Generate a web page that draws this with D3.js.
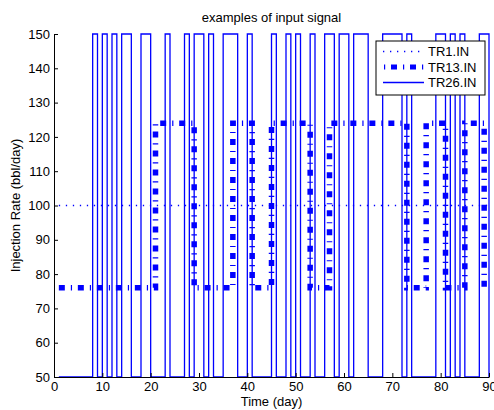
<!DOCTYPE html>
<html>
<head>
<meta charset="utf-8">
<script src="https://cdn.jsdelivr.net/npm/d3@7"></script>
<style>
  body { margin: 0; background: #fff; }
  text { font-family: "Liberation Sans", Arial, sans-serif; }
</style>
</head>
<body>
<div class="chart"></div>
<script>

// values
var seriesNames = ['TR1.IN', 'TR13.IN', 'TR26.IN'];

var tr1Days = [1, 90];
var tr1Rate = [100, 100];

var tr13Days = [1, 21, 29, 37, 41, 45, 53, 57, 73, 77, 81, 85, 89, 90];
var tr13Rate = [76, 124, 76, 124, 76, 124, 76, 124, 76, 124, 76, 124, 76, 76];

var tr26Days = [1, 8, 9, 10, 11, 12, 13, 14, 16, 18, 20, 23, 24, 27, 28, 29, 31,
                32, 33, 35, 38, 40, 41, 45, 46, 48, 49, 50, 51, 53, 54, 56, 58,
                59, 61, 62, 65, 68, 72, 73, 74, 79, 81, 82, 83, 84, 85, 88, 90];
var tr26Rate = [50,
                150, 50, 150, 50, 150, 50, 150, 50, 150, 50, 150, 50,
                150, 50, 150, 50, 150, 50, 150, 50, 150, 50, 150, 50,
                150, 50, 150, 50, 150, 50, 150, 50, 150, 50, 150, 50,
                150, 50, 150, 50, 150, 50, 150, 50, 150, 50, 150, 50];

var xTickValues = [0, 10, 20, 30, 40, 50, 60, 70, 80, 90];
var yTickValues = [50, 60, 70, 80, 90, 100, 110, 120, 130, 140, 150];

var width = 494, height = 410;
var plotLeft = 54, plotRight = 489, plotTop = 34, plotBottom = 377;
var blue = '#0000ff';

var svg = d3.select('.chart')
  .append('svg')
  .attr('width', width)
  .attr('height', height);

var x = d3.scaleLinear().domain([0, 90]).range([plotLeft, plotRight]);
var y = d3.scaleLinear().domain([50, 150]).range([plotBottom, plotTop]);

function toPoints(days, rate) {
  return days.map(function(d, i) { return [d, rate[i]]; });
}

var stepLine = d3.line()
  .x(function(d) { return x(d[0]); })
  .y(function(d) { return y(d[1]); })
  .curve(d3.curveStepAfter);

// line styles: dotted, thick dash-dot, thin solid
var styles = [
  { width: 1.3, dash: '1.3,5.7' },
  { width: 5.5, dash: '6,6,1.2,5.8' },
  { width: 1.3, dash: null }
];

var series = [
  toPoints(tr1Days, tr1Rate),
  toPoints(tr13Days, tr13Rate),
  toPoints(tr26Days, tr26Rate)
];

svg.selectAll('path.series')
  .data(series)
  .enter()
  .append('path')
    .attr('class', 'series')
    .attr('d', stepLine)
    .attr('fill', 'none')
    .attr('stroke', blue)
    .attr('stroke-linejoin', 'miter')
    .attr('stroke-width', function(d, i) { return styles[i].width; })
    .attr('stroke-dasharray', function(d, i) { return styles[i].dash; });

// axes, ticks pointing inward
var xAxis = d3.axisBottom(x)
  .tickValues(xTickValues)
  .tickSizeInner(-4)
  .tickSizeOuter(0)
  .tickPadding(5);

var yAxis = d3.axisLeft(y)
  .tickValues(yTickValues)
  .tickSizeInner(-4)
  .tickSizeOuter(0)
  .tickPadding(4);

var gx = svg.append('g')
  .attr('transform', 'translate(0,' + plotBottom + ')')
  .call(xAxis);

var gy = svg.append('g')
  .attr('transform', 'translate(' + plotLeft + ',0)')
  .call(yAxis);

[gx, gy].forEach(function(g) {
  g.attr('font-family', null).attr('font-size', null);
  g.selectAll('path, line').attr('stroke', '#000').attr('stroke-width', 1);
  g.selectAll('text').attr('fill', '#000').style('font-size', '13px');
});

svg.append('text')
  .attr('x', (plotLeft + plotRight) / 2)
  .attr('y', 22)
  .attr('text-anchor', 'middle')
  .style('font-size', '13px')
  .text('examples of input signal');

svg.append('text')
  .attr('x', (plotLeft + plotRight) / 2)
  .attr('y', 406)
  .attr('text-anchor', 'middle')
  .style('font-size', '13px')
  .text('Time (day)');

svg.append('text')
  .attr('transform', 'translate(20,' + (plotTop + plotBottom) / 2 + ') rotate(-90)')
  .attr('text-anchor', 'middle')
  .style('font-size', '13px')
  .text('Injection Rate (bbl/day)');

// legend
var legend = svg.append('g');

legend.append('rect')
  .attr('x', 376)
  .attr('y', 41)
  .attr('width', 109)
  .attr('height', 54)
  .attr('fill', '#fff')
  .attr('stroke', '#000')
  .attr('stroke-width', 1);

var rows = legend.selectAll('g.row')
  .data(seriesNames)
  .enter()
  .append('g')
    .attr('class', 'row')
    .attr('transform', function(d, i) { return 'translate(0,' + (51.5 + i * 15.5) + ')'; });

rows.append('line')
  .attr('x1', 383)
  .attr('x2', 424)
  .attr('stroke', blue)
  .attr('stroke-width', function(d, i) { return i === 1 ? 5 : styles[i].width; })
  .attr('stroke-dasharray', function(d, i) { return styles[i].dash; })
  .attr('stroke-dashoffset', function(d, i) { return i === 1 ? 11 : 0; });

rows.append('text')
  .attr('x', 428)
  .attr('dy', '0.36em')
  .style('font-size', '13px')
  .text(function(d) { return d; });

</script>
</body>
</html>
